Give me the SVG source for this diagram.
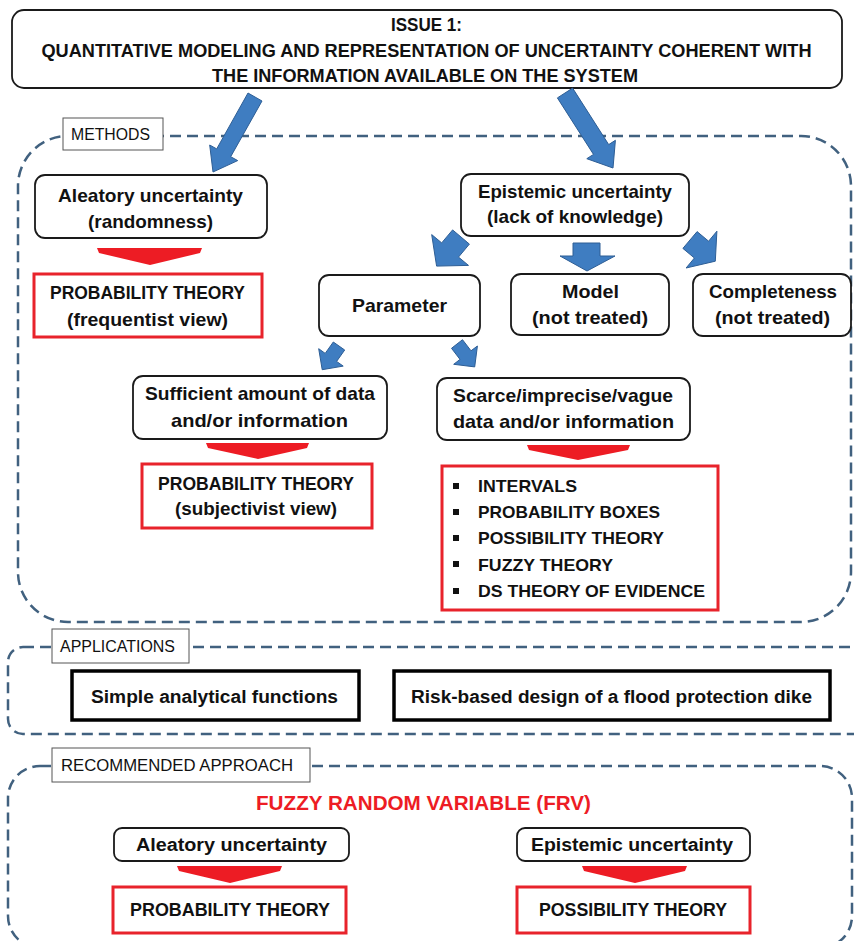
<svg xmlns="http://www.w3.org/2000/svg" width="854" height="941" viewBox="0 0 854 941">
<style>
  .bg{fill:#ffffff}
  .region{fill:none;stroke:#41617F;stroke-width:2.5;stroke-dasharray:11 6}
  .node{fill:#ffffff;stroke:#1a1a1a;stroke-width:1.8}
  .red{fill:#ffffff;stroke:#E8232B;stroke-width:3}
  .app{fill:#ffffff;stroke:#000000;stroke-width:3.5}
  .label{fill:#ffffff;stroke:#555555;stroke-width:1}
  text{font-family:"Liberation Sans",Arial,sans-serif;fill:#111111;text-anchor:middle}
  .b{font-weight:bold;font-size:19px}
  .t{font-weight:bold;font-size:18px}
  .l{font-weight:normal;font-size:16px}
  .li{font-weight:bold;font-size:17px;text-anchor:start}
  .c{font-weight:bold;font-size:18px}
  .frv{font-weight:bold;font-size:21px;fill:#ED1C24}
  .blue{fill:#3F7DC1;stroke:#2E5E95;stroke-width:1}
  .redarrow{fill:#ED1C24}
  .bullet{fill:#111111}
</style>
<rect class="bg" x="0" y="0" width="854" height="941"/>

<g id="regions">
  <rect id="methods-region" class="region" x="18" y="136" width="833" height="486" rx="50" ry="50"/>
  <rect id="applications-region" class="region" x="8" y="647" width="880" height="87" rx="15" ry="15"/>
  <rect id="recommended-region" class="region" x="8" y="766" width="844" height="182" rx="32" ry="32"/>
</g>

<g id="issue">
  <rect class="node" x="12" y="10" width="830" height="78" rx="12" ry="12"/>
  <text class="t" x="426.5" y="31" textLength="71" lengthAdjust="spacingAndGlyphs">ISSUE 1:</text>
  <text class="t" x="426.5" y="57" textLength="770" lengthAdjust="spacingAndGlyphs">QUANTITATIVE MODELING AND REPRESENTATION OF UNCERTAINTY COHERENT WITH</text>
  <text class="t" x="425" y="82" textLength="426" lengthAdjust="spacingAndGlyphs">THE INFORMATION AVAILABLE ON THE SYSTEM</text>
</g>

<g id="methods-label">
  <rect class="label" x="63" y="118" width="100" height="32"/>
  <text class="l" x="110.5" y="140" textLength="79" lengthAdjust="spacingAndGlyphs">METHODS</text>
</g>

<g id="aleatory">
  <rect class="node" x="35" y="175" width="232" height="63" rx="10" ry="10"/>
  <text class="b" x="150.5" y="202" textLength="185" lengthAdjust="spacingAndGlyphs">Aleatory uncertainty</text>
  <text class="b" x="150.5" y="228" textLength="125" lengthAdjust="spacingAndGlyphs">(randomness)</text>
</g>

<g id="prob-frequentist">
  <rect class="red" x="34" y="274" width="228" height="63"/>
  <text class="b" x="147.5" y="299" textLength="195" lengthAdjust="spacingAndGlyphs">PROBABILITY THEORY</text>
  <text class="b" x="147.5" y="326" textLength="161" lengthAdjust="spacingAndGlyphs">(frequentist view)</text>
</g>

<g id="epistemic">
  <rect class="node" x="461" y="174" width="228" height="62" rx="10" ry="10"/>
  <text class="b" x="575" y="198" textLength="194" lengthAdjust="spacingAndGlyphs">Epistemic uncertainty</text>
  <text class="b" x="575" y="223" textLength="176" lengthAdjust="spacingAndGlyphs">(lack of knowledge)</text>
</g>

<g id="parameter">
  <rect class="node" x="319" y="275" width="161" height="61" rx="10" ry="10"/>
  <text class="b" x="399.5" y="312" textLength="95" lengthAdjust="spacingAndGlyphs">Parameter</text>
</g>

<g id="model">
  <rect class="node" x="511" y="274" width="158" height="61" rx="10" ry="10"/>
  <text class="b" x="590.5" y="298" textLength="57" lengthAdjust="spacingAndGlyphs">Model</text>
  <text class="b" x="590" y="324" textLength="116" lengthAdjust="spacingAndGlyphs">(not treated)</text>
</g>

<g id="completeness">
  <rect class="node" x="693" y="274" width="158" height="62" rx="10" ry="10"/>
  <text class="b" x="773" y="298" textLength="128" lengthAdjust="spacingAndGlyphs">Completeness</text>
  <text class="b" x="772.5" y="324" textLength="115" lengthAdjust="spacingAndGlyphs">(not treated)</text>
</g>

<g id="sufficient">
  <rect class="node" x="133" y="376" width="254" height="63" rx="10" ry="10"/>
  <text class="b" x="260" y="400" textLength="230" lengthAdjust="spacingAndGlyphs">Sufficient amount of data</text>
  <text class="b" x="259.5" y="427" textLength="177" lengthAdjust="spacingAndGlyphs">and/or information</text>
</g>

<g id="prob-subjectivist">
  <rect class="red" x="142" y="464" width="230" height="64"/>
  <text class="b" x="256" y="490" textLength="196" lengthAdjust="spacingAndGlyphs">PROBABILITY THEORY</text>
  <text class="b" x="256" y="515" textLength="162" lengthAdjust="spacingAndGlyphs">(subjectivist view)</text>
</g>

<g id="scarce">
  <rect class="node" x="437" y="378" width="253" height="62" rx="10" ry="10"/>
  <text class="b" x="563" y="402" textLength="220" lengthAdjust="spacingAndGlyphs">Scarce/imprecise/vague</text>
  <text class="b" x="563.5" y="428" textLength="221" lengthAdjust="spacingAndGlyphs">data and/or information</text>
</g>

<g id="methods-list">
  <rect class="red" x="442" y="466" width="276" height="144"/>
  <rect class="bullet" x="453" y="483" width="6" height="6"/>
  <rect class="bullet" x="453" y="509" width="6" height="6"/>
  <rect class="bullet" x="453" y="535" width="6" height="6"/>
  <rect class="bullet" x="453" y="561" width="6" height="6"/>
  <rect class="bullet" x="453" y="588" width="6" height="6"/>
  <text class="li" x="478" y="492" textLength="99" lengthAdjust="spacingAndGlyphs">INTERVALS</text>
  <text class="li" x="478" y="518" textLength="182" lengthAdjust="spacingAndGlyphs">PROBABILITY BOXES</text>
  <text class="li" x="478" y="544" textLength="186" lengthAdjust="spacingAndGlyphs">POSSIBILITY  THEORY</text>
  <text class="li" x="478" y="571" textLength="135" lengthAdjust="spacingAndGlyphs">FUZZY THEORY</text>
  <text class="li" x="478" y="597" textLength="227" lengthAdjust="spacingAndGlyphs">DS THEORY OF EVIDENCE</text>
</g>

<g id="applications-label">
  <rect class="label" x="52" y="629" width="137" height="34"/>
  <text class="l" x="117.5" y="652" textLength="115" lengthAdjust="spacingAndGlyphs">APPLICATIONS</text>
</g>

<g id="app-simple">
  <rect class="app" x="72" y="671" width="287" height="49"/>
  <text class="c" x="214.5" y="703" textLength="247" lengthAdjust="spacingAndGlyphs">Simple analytical functions</text>
</g>

<g id="app-dike">
  <rect class="app" x="394" y="671" width="436" height="49"/>
  <text class="c" x="611.5" y="703" textLength="401" lengthAdjust="spacingAndGlyphs">Risk-based design of a flood protection dike</text>
</g>

<g id="recommended-label">
  <rect class="label" x="52" y="748" width="258" height="34"/>
  <text class="l" x="177" y="771" textLength="232" lengthAdjust="spacingAndGlyphs">RECOMMENDED  APPROACH</text>
</g>

<g id="frv">
  <text class="frv" x="423.5" y="810" textLength="335" lengthAdjust="spacingAndGlyphs">FUZZY RANDOM VARIABLE (FRV)</text>
</g>

<g id="rec-aleatory">
  <rect class="node" x="114" y="828" width="235" height="33" rx="8" ry="8"/>
  <text class="c" x="231.5" y="851" textLength="191" lengthAdjust="spacingAndGlyphs">Aleatory uncertainty</text>
</g>

<g id="rec-epistemic">
  <rect class="node" x="517" y="828" width="233" height="33" rx="8" ry="8"/>
  <text class="c" x="632" y="851" textLength="202" lengthAdjust="spacingAndGlyphs">Epistemic uncertainty</text>
</g>

<g id="rec-probability">
  <rect class="red" x="113" y="887" width="233" height="46"/>
  <text class="c" x="230" y="916" textLength="200" lengthAdjust="spacingAndGlyphs">PROBABILITY THEORY</text>
</g>

<g id="rec-possibility">
  <rect class="red" x="517" y="887" width="233" height="46"/>
  <text class="c" x="633" y="916" textLength="188" lengthAdjust="spacingAndGlyphs">POSSIBILITY THEORY</text>
</g>

<g id="connectors">
  <polygon class="blue" points="248,93 262,101 230.7,156.7 237.7,160.6 213,172 209.7,145 216.7,148.9"/>
  <polygon class="blue" points="572.6,88.1 608.7,144.6 615.4,140.3 613,168 586.8,158.7 593.5,154.4 557.4,97.9"/>
  <polygon class="blue" points="452.6,229.9 469.4,244.1 458.5,257.1 468.5,265.4 436.6,266.1 431.7,234.6 441.7,242.9"/>
  <polygon class="blue" points="573,243 600,243 600,256 615,256 587,271 560,256 573,256"/>
  <polygon class="blue" points="697.1,231.6 708.6,241.2 716.9,231.2 715.3,261.2 686.1,268 694.4,258 682.9,248.4"/>
  <polygon class="blue" points="333.3,342 344.7,350 336.6,361.4 343.2,366.1 322.2,369.7 318.7,348.7 325.2,353.4"/>
  <polygon class="blue" points="462.5,339.7 471,350.8 477.4,346 474.7,366.9 453.7,364.3 460,359.4 451.5,348.3"/>
  <polygon class="redarrow" points="97,248 202,248 200,253 150,265 99,253"/>
  <polygon class="redarrow" points="206,443 309,443 307,448 258,459 208,448"/>
  <polygon class="redarrow" points="527,445 630,445 628,450 578,460 529,450"/>
  <polygon class="redarrow" points="177,866 282,866 280,871 230,883 179,871"/>
  <polygon class="redarrow" points="582,866 687,866 685,871 635,883 584,871"/>
</g>
</svg>
